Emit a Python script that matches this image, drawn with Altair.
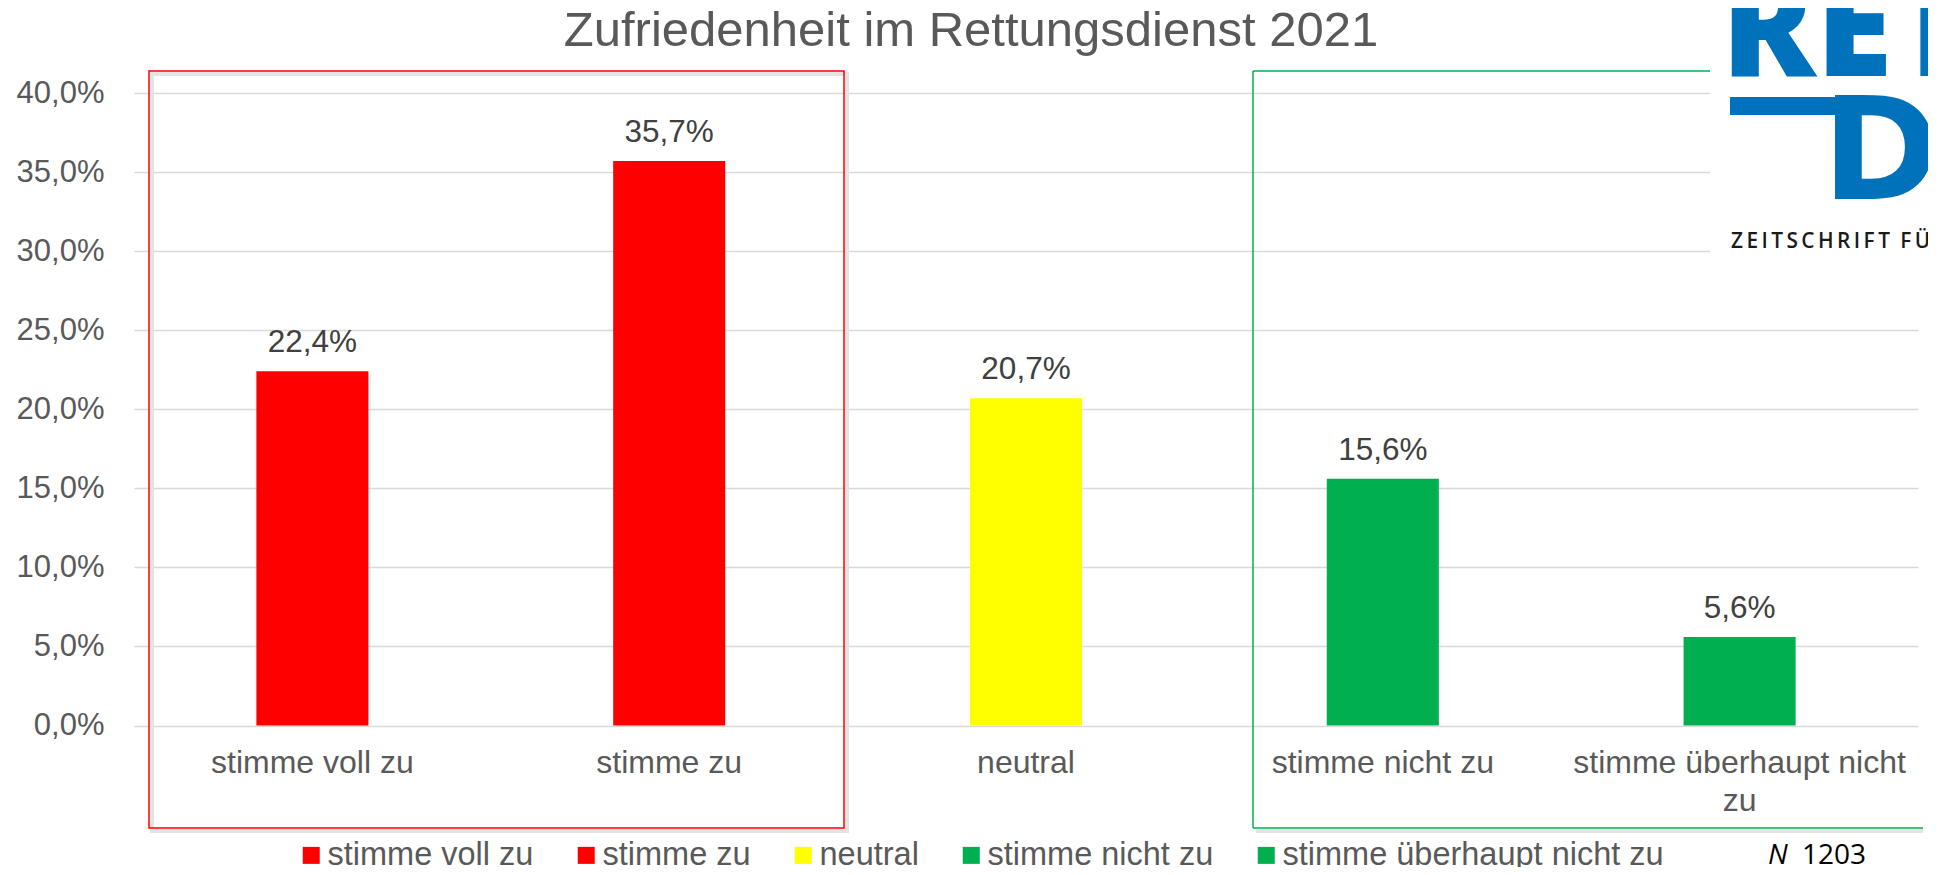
import altair as alt
import pandas as pd

# ---------------- data ----------------
categories = ["stimme voll zu", "stimme zu", "neutral", "stimme nicht zu", "stimme überhaupt nicht zu"]
values = [22.4, 35.7, 20.7, 15.6, 5.6]
colors = ["#FF0000", "#FF0000", "#FFFF00", "#00B050", "#00B050"]
y_ticks = [0, 5, 10, 15, 20, 25, 30, 35, 40]
wrapped_labels = {"stimme überhaupt nicht zu": ["stimme überhaupt nicht", "zu"]}
title_text = "Zufriedenheit im Rettungsdienst 2021"
note_italic = "N"
note_value = "1203"
logo_word = "RET"
logo_letter = "D"
logo_caption = "\u2009".join(list("ZEITSCHRIFT")) + "\u2009\u2009\u2009" + "F\u2009Ü"

df = pd.DataFrame({"kategorie": categories, "anteil": values})
one = pd.DataFrame({"k": [0]})

# ---------------- layout ----------------
W, H = 1784, 632.5
FONT = "Liberation Sans"
GRAY = "#595959"

label_expr = " : ".join(
    [f"datum.value == '{k}' ? {v!r}" for k, v in wrapped_labels.items()] + ["datum.value"]
)

x_enc = alt.X(
    "kategorie:N",
    sort=categories,
    scale=alt.Scale(paddingInner=0.686, paddingOuter=0.343),
    axis=alt.Axis(
        title=None, labelAngle=0, ticks=False, domain=False, grid=False,
        labelFontSize=32, labelColor=GRAY, labelFont=FONT, labelPadding=22,
        labelLimit=600, labelLineHeight=38, labelExpr=label_expr,
    ),
)
y_enc = alt.Y(
    "anteil:Q",
    scale=alt.Scale(domain=[0, 40], nice=False),
    axis=alt.Axis(
        title=None, values=y_ticks, ticks=False, domain=False,
        grid=True, gridColor="#D9D9D9", gridWidth=1.5,
        labelFontSize=31, labelColor=GRAY, labelFont=FONT, labelPadding=30,
        labelExpr="replace(format(datum.value, '.1f'), '.', ',') + '%'",
    ),
)

base = alt.Chart(df)

bars = base.mark_bar().encode(
    x=x_enc,
    y=y_enc,
    color=alt.Color(
        "kategorie:N",
        sort=categories,
        scale=alt.Scale(domain=categories, range=colors),
        legend=alt.Legend(
            orient="none", legendX=161, legendY=746, direction="horizontal", columns=5,
            title=None, symbolType="square", symbolSize=289, symbolStrokeWidth=0,
            symbolOpacity=1, labelFontSize=32.5, labelColor=GRAY, labelFont=FONT,
            labelOffset=0, columnPadding=36, labelLimit=800, padding=0,
        ),
    ),
)

labels = base.transform_calculate(
    txt="replace(format(datum.anteil, '.1f'), '.', ',') + '%'"
).mark_text(dy=-19, baseline="alphabetic", fontSize=31.5, color="#404040", font=FONT).encode(
    x=alt.X("kategorie:N", sort=categories), y="anteil:Q", text="txt:N"
)


def box(x1, x2, y1, y2, color, sw):
    return alt.Chart(one).mark_rect(
        fillOpacity=0, stroke=color, strokeWidth=sw
    ).encode(x=alt.value(x1), x2=alt.value(x2), y=alt.value(y1), y2=alt.value(y2))


def rule(x1, x2, y1, y2, color, sw):
    return alt.Chart(one).mark_rule(color=color, strokeWidth=sw).encode(
        x=alt.value(x1), x2=alt.value(x2), y=alt.value(y1), y2=alt.value(y2)
    )


SHADOW = "#E4E4E4"
GREEN_LINE = "#00B050"
decor = [
    # soft shadows
    box(18, 713, -19, 738, SHADOW, 4),
    rule(1122, 1789, 738, 738, SHADOW, 4),
    # red frame
    box(15, 710, -22, 735, "#FF0000", 1.5),
    # green frame (open to the right, runs off the picture)
    rule(1119, 1119, -22, 735, GREEN_LINE, 1.5),
    rule(1119, 1789, -22, -22, GREEN_LINE, 1.5),
    rule(1119, 1789, 735, 735, GREEN_LINE, 1.5),
]

title = alt.Chart(one).mark_text(
    fontSize=49, color=GRAY, font=FONT, align="center", baseline="alphabetic"
).encode(x=alt.value(837), y=alt.value(-47), text=alt.value(title_text))

logo_bg = alt.Chart(one).mark_rect(fill="white").encode(
    x=alt.value(1576), x2=alt.value(1800), y=alt.value(-100), y2=alt.value(177)
)
LOGO_BLUE = "#0072BB"
logo_word_mark = alt.Chart(one).mark_text(
    fontSize=140, font="Open Sans", fontWeight=800, color=LOGO_BLUE,
    align="left", baseline="alphabetic",
).encode(x=alt.value(1587), y=alt.value(-17), text=alt.value(logo_word))
logo_bar = alt.Chart(one).mark_rect(fill=LOGO_BLUE).encode(
    x=alt.value(1596), x2=alt.value(1710), y=alt.value(4), y2=alt.value(22)
)
logo_letter_mark = alt.Chart(one).mark_text(
    fontSize=142, font="DejaVu Sans", fontWeight="bold", color=LOGO_BLUE,
    align="left", baseline="alphabetic",
).encode(x=alt.value(1688), y=alt.value(106), text=alt.value(logo_letter))
logo_caption_mark = alt.Chart(one).mark_text(
    fontSize=20.8, font="Open Sans", fontWeight=600, color="#1A1A1A",
    align="left", baseline="alphabetic",
).encode(x=alt.value(1597), y=alt.value(155), text=alt.value(logo_caption))

note_n = alt.Chart(one).mark_text(
    fontSize=28, font="Open Sans", fontStyle="italic", color="#000000",
    align="left", baseline="alphabetic",
).encode(x=alt.value(1634), y=alt.value(771), text=alt.value(note_italic))
note_v = alt.Chart(one).mark_text(
    fontSize=28, font="Open Sans", color="#000000",
    align="left", baseline="alphabetic",
).encode(x=alt.value(1668), y=alt.value(771), text=alt.value(note_value))

chart = alt.layer(
    *decor, bars, labels, logo_bg, logo_word_mark, logo_bar,
    logo_letter_mark, logo_caption_mark, title, note_n, note_v,
).properties(
    width=W, height=H,
    autosize=alt.AutoSizeParams(type="none"),
    padding={"left": 126, "top": 85, "right": 10, "bottom": 141},
    background="white",
).configure_view(stroke=None)

chart.save("out.html", embed_options={"renderer": "svg", "actions": False})
